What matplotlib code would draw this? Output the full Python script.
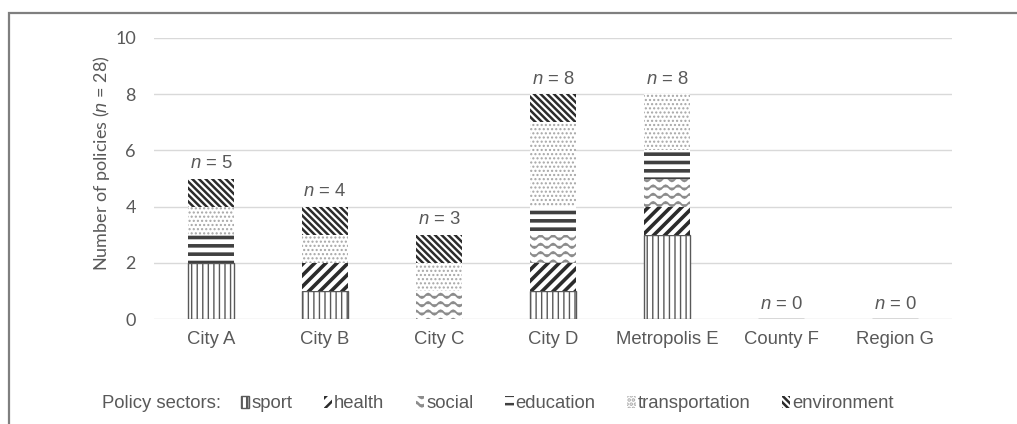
import warnings
warnings.filterwarnings('ignore')
import numpy as np
import matplotlib
matplotlib.use('Agg')
import matplotlib.pyplot as plt
import matplotlib.hatch as mhatch
from matplotlib.path import Path
from matplotlib.patches import Rectangle

# ---------------- data ----------------
categories = ['City A', 'City B', 'City C', 'City D', 'Metropolis E', 'County F', 'Region G']
sectors = ['sport', 'health', 'social', 'education', 'transportation', 'environment']
sport = [2, 1, 0, 1, 3, 0, 0]
health = [0, 1, 0, 1, 1, 0, 0]
social = [0, 0, 1, 1, 1, 0, 0]
education = [1, 0, 0, 1, 1, 0, 0]
transportation = [1, 1, 1, 3, 2, 0, 0]
environment = [1, 1, 1, 1, 0, 0, 0]
yticks = [0, 2, 4, 6, 8, 10]
n_total_label = 28

# ---------------- custom wave hatch ----------------
class WaveHatch(mhatch.HatchPatternBase):
    def __init__(self, hatch, density):
        self.num_rows = int(hatch.count('w') * density)
        self.npts = 65
        self.num_vertices = self.num_rows * self.npts

    def set_vertices_and_codes(self, vertices, codes):
        xs = np.linspace(0.0, 1.0, self.npts)
        amp = 0.022
        for i in range(self.num_rows):
            y0 = (i + 0.5) / self.num_rows
            sl = slice(i * self.npts, (i + 1) * self.npts)
            vertices[sl, 0] = xs
            vertices[sl, 1] = y0 + amp * np.sin(2 * np.pi * 8 * xs)
            codes[sl] = Path.LINETO
            codes[i * self.npts] = Path.MOVETO

mhatch._hatch_types.append(WaveHatch)
mhatch._validate_hatch_pattern = lambda h: None

# ---------------- styles ----------------
TXT = '#595959'
styles = {
    'sport':          dict(hatch='|||',        color='#595959', hlw=1.0, elw=1.0),
    'health':         dict(hatch='///',        color='#2b2b2b', hlw=2.6, elw=0.0),
    'social':         dict(hatch='ww',         color='#8c8c8c', hlw=1.3, elw=0.0),
    'education':      dict(hatch='--',         color='#404040', hlw=2.6, elw=0.0),
    'transportation': dict(hatch='....',       color='#a6a6a6', hlw=1.0, elw=0.0),
    'environment':    dict(hatch='\\\\\\\\\\', color='#2b2b2b', hlw=1.8, elw=0.0),
}

plt.rcParams['mathtext.fontset'] = 'custom'
plt.rcParams['mathtext.rm'] = 'Liberation Sans'
plt.rcParams['mathtext.it'] = 'Liberation Sans:italic'
plt.rcParams['font.family'] = ['Liberation Sans', 'DejaVu Sans']

W, H = 1017, 424
FS = 13.3
fig = plt.figure(figsize=(W / 100, H / 100), dpi=100)
fig.patch.set_facecolor('white')
ax = fig.add_axes([154 / W, 1 - 319 / H, (952 - 154) / W, (319 - 38) / H])

data = dict(sport=sport, health=health, social=social, education=education,
            transportation=transportation, environment=environment)
x = np.arange(len(categories))
bottom = np.zeros(len(categories))
handles = []
for s in sectors:
    st = styles[s]
    plt.rcParams['hatch.linewidth'] = st['hlw']
    vals = np.array(data[s], dtype=float)
    bars = ax.bar(x, vals, width=0.41, bottom=bottom, facecolor='white',
                  edgecolor=st['color'], linewidth=st['elw'], hatch=st['hatch'],
                  label=s, zorder=3)
    for p in bars.patches:
        if hasattr(p, 'set_hatch_linewidth'):
            p.set_hatch_linewidth(st['hlw'])
    handles.append(bars)
    bottom += vals

totals = bottom
for i, t in enumerate(totals):
    ax.annotate(f'$n$ = {int(t)}', (x[i], t), xytext=(0, 7.5), textcoords='offset points',
                ha='center', va='baseline', fontsize=FS, color=TXT)

ax.set_xlim(-0.5, len(categories) - 0.5)
ax.set_ylim(0, 10)
ax.set_yticks(yticks)
ax.set_xticks(x)
ax.set_xticklabels(categories, fontsize=FS, color=TXT)
for lbl in ax.get_yticklabels():
    lbl.set_fontfamily('Lato')
    lbl.set_fontsize(13)
    lbl.set_color(TXT)
ax.tick_params(axis='y', length=0, pad=13)
ax.tick_params(axis='x', length=0, pad=9)
ax.grid(axis='y', color='#d9d9d9', linewidth=1.0, zorder=0)
ax.set_axisbelow(True)
for sp in ax.spines.values():
    sp.set_visible(False)

ax.set_ylabel(f'Number of policies ($n$ = {n_total_label})', fontsize=13, color=TXT,
              family='Lato')
ax.yaxis.label.set_va('center')
ax.yaxis.set_label_coords((101 - 154) / (952 - 154), (319 - 163) / (319 - 38))

fig.text(102 / W, 1 - 404 / H, 'Policy sectors:', fontsize=FS, color=TXT,
         ha='left', va='center')
leg = fig.legend(handles, sectors, loc='center left',
                 bbox_to_anchor=(241 / W, 1 - 404 / H), ncol=6, frameon=False,
                 fontsize=FS, labelcolor=TXT, handlelength=0.45, handleheight=0.6,
                 handletextpad=0.1, columnspacing=1.72, borderpad=0, borderaxespad=0)

fig.add_artist(Rectangle((9 / W, -0.2), 1.2, 1.2 - 13 / H, transform=fig.transFigure,
                         fill=False, edgecolor='#7f7f7f', linewidth=1.6))

fig.savefig('out.png', dpi=100)
